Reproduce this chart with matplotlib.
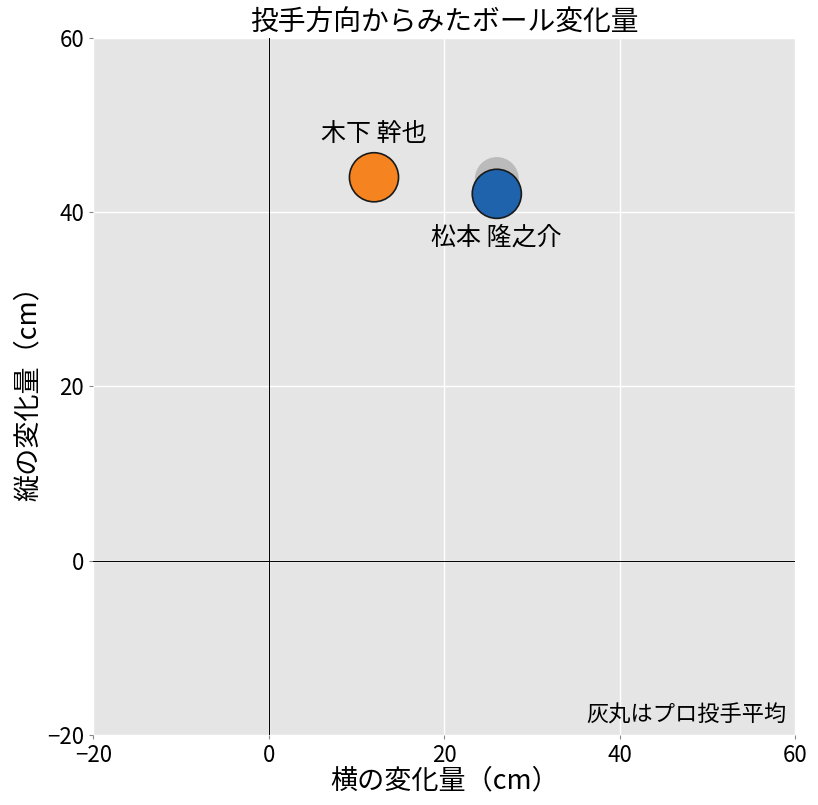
import matplotlib.pyplot as plt

plt.rcParams['font.family'] = ['Noto Sans CJK JP', 'DejaVu Sans']

# データ（投手方向からみた変化量, cm）
names = ["木下 幹也", "松本 隆之介"]
horiz = [12.0, 26.0]
vert = [44.0, 42.1]
colors = ["#f5831f", "#1f63ad"]
avg_horiz = [26.0]
avg_vert = [43.8]

fig, ax = plt.subplots(figsize=(8.18, 8.05), dpi=100)
fig.subplots_adjust(left=0.114, right=0.972, top=0.953, bottom=0.087)

ax.set_facecolor("#e5e5e5")
ax.grid(True, color="white", linewidth=1.0)
ax.set_axisbelow(True)
for s in ax.spines.values():
    s.set_visible(False)

ax.axhline(0, color="black", linewidth=0.7, zorder=1)
ax.axvline(0, color="black", linewidth=0.7, zorder=1)

# プロ平均（灰丸）
ax.scatter(avg_horiz, avg_vert, s=1000, color="#a0a0a0", alpha=0.6, zorder=2, edgecolors="none")
# 各投手
ax.scatter(horiz, vert, s=1250, c=colors, edgecolors="#1a1a1a", linewidths=1.2, zorder=3)

ax.text(horiz[0], vert[0] + 3.5, names[0], ha="center", va="bottom", fontsize=18)
ax.text(horiz[1], vert[1] - 3.5, names[1], ha="center", va="top", fontsize=18)
ax.text(0.988, 0.012, "灰丸はプロ投手平均", transform=ax.transAxes, ha="right", va="bottom", fontsize=16)

ax.set_xlim(-20, 60)
ax.set_ylim(-20, 60)
ax.set_xticks([-20, 0, 20, 40, 60])
ax.set_yticks([-20, 0, 20, 40, 60])
ax.tick_params(labelsize=16, length=3, color="#888888")

ax.set_title("投手方向からみたボール変化量", fontsize=20, pad=2)
ax.set_xlabel("横の変化量（cm）", fontsize=19.5, labelpad=0)
ax.set_ylabel("縦の変化量（cm）", fontsize=19.5, labelpad=4)

plt.savefig("out.png")
